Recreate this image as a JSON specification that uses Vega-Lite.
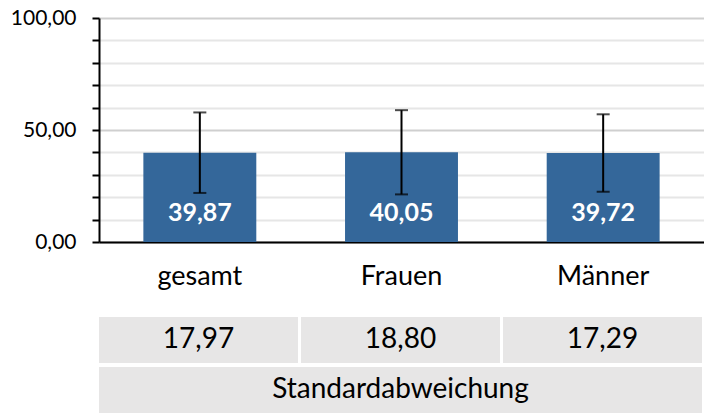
{
  "$schema": "https://vega.github.io/schema/vega-lite/v6.json",
  "background": "white",
  "padding": {"left": 0, "top": 7, "right": 0, "bottom": 0},
  "autosize": {"type": "pad"},
  "bounds": "flush",
  "spacing": 75,
  "config": {
    "locale": {"number": {"decimal": ",", "thousands": ".", "grouping": [3], "currency": ["", " €"]}},
    "font": "Lato",
    "view": {"stroke": null}
  },
  "datasets": {
    "stats": [
      {"gruppe": "gesamt", "mittelwert": 39.87, "sd": 17.97},
      {"gruppe": "Frauen", "mittelwert": 40.05, "sd": 18.80},
      {"gruppe": "Männer", "mittelwert": 39.72, "sd": 17.29}
    ]
  },
  "vconcat": [
    {
      "width": 605,
      "height": 224,
      "data": {"name": "stats"},
      "encoding": {
        "x": {
          "field": "gruppe",
          "type": "nominal",
          "sort": null,
          "scale": {"paddingInner": 0.44, "paddingOuter": 0.22},
          "axis": {
            "title": null,
            "labelAngle": 0,
            "labelFontSize": 27,
            "labelColor": "#000000",
            "labelPadding": 21,
            "ticks": false,
            "tickSize": 0,
            "domainColor": "#000000",
            "domainWidth": 2
          }
        }
      },
      "layer": [
        {
          "mark": {"type": "bar", "color": "#34679a"},
          "encoding": {
            "y": {
              "field": "mittelwert",
              "type": "quantitative",
              "scale": {"domain": [0, 100], "nice": false},
              "axis": {
                "title": null,
                "values": [0, 10, 20, 30, 40, 50, 60, 70, 80, 90, 100],
                "format": ".2f",
                "labelExpr": "datum.value % 50 === 0 ? datum.label : ''",
                "labelFontSize": 21,
                "labelColor": "#000000",
                "labelPadding": 16,
                "tickSize": 7,
                "tickWidth": 2,
                "tickColor": "#000000",
                "domainColor": "#000000",
                "domainWidth": 2,
                "grid": true,
                "gridWidth": 2,
                "gridColor": {"condition": {"test": "datum.value % 50 === 0", "value": "#cfcfcf"}, "value": "#e6e6e6"},
                "minExtent": 99,
                "maxExtent": 99
              }
            }
          }
        },
        {
          "mark": {"type": "errorbar", "color": "#000000", "thickness": 2, "ticks": {"size": 13, "thickness": 2, "color": "#000000"}},
          "encoding": {
            "y": {
              "field": "mittelwert",
              "type": "quantitative",
              "axis": {
                "title": null,
                "values": [0, 10, 20, 30, 40, 50, 60, 70, 80, 90, 100],
                "format": ".2f",
                "labelExpr": "datum.value % 50 === 0 ? datum.label : ''",
                "labelFontSize": 21,
                "labelColor": "#000000",
                "labelPadding": 16,
                "tickSize": 7,
                "tickWidth": 2,
                "tickColor": "#000000",
                "domainColor": "#000000",
                "domainWidth": 2,
                "grid": true,
                "gridWidth": 2,
                "gridColor": {"condition": {"test": "datum.value % 50 === 0", "value": "#cfcfcf"}, "value": "#e6e6e6"},
                "minExtent": 99,
                "maxExtent": 99
              }
            },
            "yError": {"field": "sd"}
          }
        },
        {
          "mark": {"type": "text", "color": "#ffffff", "fontWeight": "bold", "fontSize": 25, "baseline": "middle", "dy": -29},
          "encoding": {
            "y": {
              "datum": 0,
              "type": "quantitative",
              "axis": {
                "title": null,
                "values": [0, 10, 20, 30, 40, 50, 60, 70, 80, 90, 100],
                "format": ".2f",
                "labelExpr": "datum.value % 50 === 0 ? datum.label : ''",
                "labelFontSize": 21,
                "labelColor": "#000000",
                "labelPadding": 16,
                "tickSize": 7,
                "tickWidth": 2,
                "tickColor": "#000000",
                "domainColor": "#000000",
                "domainWidth": 2,
                "grid": true,
                "gridWidth": 2,
                "gridColor": {"condition": {"test": "datum.value % 50 === 0", "value": "#cfcfcf"}, "value": "#e6e6e6"},
                "minExtent": 99,
                "maxExtent": 99
              }
            },
            "text": {"field": "mittelwert", "type": "quantitative", "format": ".2f"}
          }
        }
      ]
    },
    {
      "width": 603,
      "height": 96,
      "layer": [
        {
          "data": {"name": "stats"},
          "mark": {"type": "rect", "color": "#e7e6e6"},
          "encoding": {
            "x": {"field": "gruppe", "type": "nominal", "sort": null, "scale": {"paddingInner": 0.015, "paddingOuter": 0}, "axis": null},
            "y": {"datum": "wert", "type": "nominal", "scale": {"domain": ["wert", "bezeichnung"], "paddingInner": 0.083, "paddingOuter": 0}, "axis": null}
          }
        },
        {
          "data": {"name": "stats"},
          "mark": {"type": "text", "fontSize": 28, "color": "#000000", "baseline": "middle"},
          "encoding": {
            "x": {"field": "gruppe", "type": "nominal", "sort": null},
            "y": {"datum": "wert", "type": "nominal"},
            "text": {"field": "sd", "type": "quantitative", "format": ".2f"}
          }
        },
        {
          "data": {"values": [{"bezeichnung": "Standardabweichung"}]},
          "mark": {"type": "rect", "color": "#e7e6e6"},
          "encoding": {
            "y": {"datum": "bezeichnung", "type": "nominal"}
          }
        },
        {
          "data": {"values": [{"bezeichnung": "Standardabweichung"}]},
          "mark": {"type": "text", "fontSize": 28, "color": "#000000", "baseline": "middle"},
          "encoding": {
            "y": {"datum": "bezeichnung", "type": "nominal"},
            "text": {"field": "bezeichnung", "type": "nominal"}
          }
        }
      ]
    }
  ]
}
